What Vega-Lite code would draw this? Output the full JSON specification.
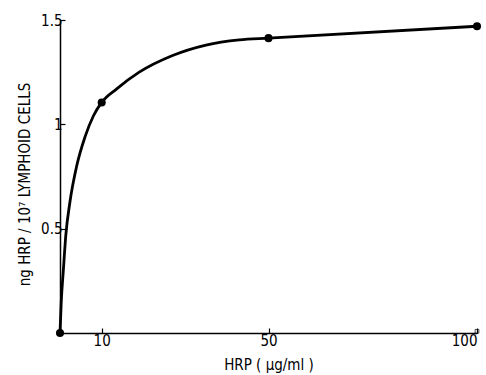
{
  "$schema": "https://vega.github.io/schema/vega-lite/v6.json",
  "width": 417,
  "height": 313,
  "autosize": {"type": "none"},
  "padding": {"left": 60, "top": 20, "right": 9, "bottom": 42},
  "background": "white",
  "datasets": {
    "fitted": [
      {"hrp": 0, "uptake": 0},
      {"hrp": 0.3, "uptake": 0.15},
      {"hrp": 0.8, "uptake": 0.3},
      {"hrp": 1.4, "uptake": 0.47},
      {"hrp": 2.4, "uptake": 0.63},
      {"hrp": 4.0, "uptake": 0.8},
      {"hrp": 6.0, "uptake": 0.94},
      {"hrp": 8.0, "uptake": 1.04},
      {"hrp": 10, "uptake": 1.105},
      {"hrp": 13.6, "uptake": 1.17},
      {"hrp": 19, "uptake": 1.25},
      {"hrp": 27, "uptake": 1.33},
      {"hrp": 35, "uptake": 1.38},
      {"hrp": 43, "uptake": 1.405},
      {"hrp": 50, "uptake": 1.413},
      {"hrp": 100, "uptake": 1.47}
    ],
    "measured": [
      {"hrp": 0, "uptake": 0},
      {"hrp": 10, "uptake": 1.105},
      {"hrp": 50, "uptake": 1.413},
      {"hrp": 100, "uptake": 1.47}
    ],
    "control": [
      {"hrp": 100, "uptake": 0.008}
    ]
  },
  "config": {
    "view": {"stroke": null},
    "font": "'DejaVu Sans Condensed', 'Liberation Sans', sans-serif",
    "axis": {
      "grid": false,
      "domainColor": "black",
      "domainWidth": 1.5,
      "tickColor": "black",
      "tickWidth": 1.2,
      "tickSize": -5,
      "labelColor": "black",
      "labelFont": "'DejaVu Sans Condensed', 'Liberation Sans', sans-serif",
      "labelFontSize": 15,
      "titleColor": "black",
      "titleFont": "'DejaVu Sans Condensed', 'Liberation Sans', sans-serif",
      "titleFontSize": 15,
      "titleFontWeight": "normal"
    }
  },
  "layer": [
    {
      "data": {"name": "fitted"},
      "mark": {"type": "line", "interpolate": "monotone", "color": "black", "strokeWidth": 2.8},
      "encoding": {
        "x": {
          "field": "hrp", "type": "quantitative",
          "scale": {"domain": [0, 100], "nice": false, "zero": true},
          "axis": {"values": [10, 50, 100], "title": "HRP ( µg/ml )", "labelPadding": 5, "titlePadding": 9}
        },
        "y": {
          "field": "uptake", "type": "quantitative",
          "scale": {"domain": [0, 1.5], "nice": false},
          "axis": {"values": [0.5, 1, 1.5], "format": ".1~f", "title": "ng HRP / 10⁷ LYMPHOID CELLS", "labelPadding": 3, "titlePadding": 8, "titleY": 164}
        }
      }
    },
    {
      "data": {"name": "measured"},
      "mark": {"type": "point", "filled": true, "color": "black", "size": 65, "opacity": 1},
      "encoding": {
        "x": {"field": "hrp", "type": "quantitative"},
        "y": {"field": "uptake", "type": "quantitative"}
      }
    },
    {
      "data": {"name": "control"},
      "mark": {"type": "point", "shape": "square", "filled": false, "color": "black", "size": 14, "strokeWidth": 1},
      "encoding": {
        "x": {"field": "hrp", "type": "quantitative"},
        "y": {"field": "uptake", "type": "quantitative"}
      }
    }
  ]
}
